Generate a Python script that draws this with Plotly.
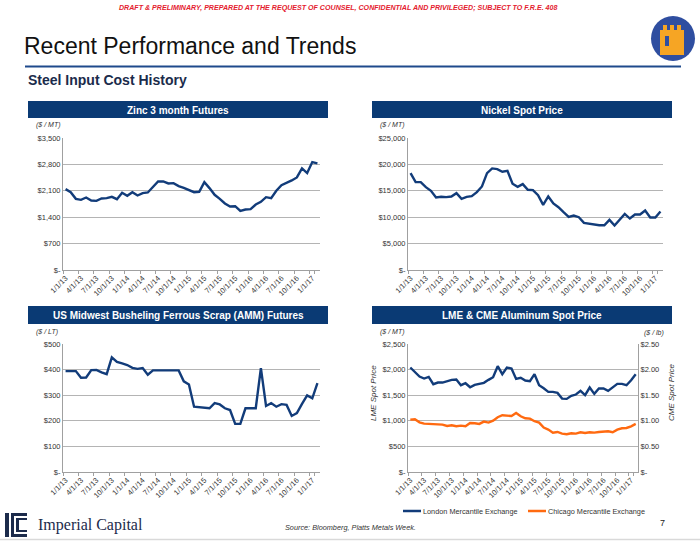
import plotly.graph_objects as go

W, H = 700, 541


def px(x):
    return x / W


def py(y):
    return 1 - y / H


# ---------------- data ----------------
months = [
    "1/1/13", "2/1/13", "3/1/13", "4/1/13", "5/1/13", "6/1/13", "7/1/13", "8/1/13", "9/1/13", "10/1/13", "11/1/13", "12/1/13",
    "1/1/14", "2/1/14", "3/1/14", "4/1/14", "5/1/14", "6/1/14", "7/1/14", "8/1/14", "9/1/14", "10/1/14", "11/1/14", "12/1/14",
    "1/1/15", "2/1/15", "3/1/15", "4/1/15", "5/1/15", "6/1/15", "7/1/15", "8/1/15", "9/1/15", "10/1/15", "11/1/15", "12/1/15",
    "1/1/16", "2/1/16", "3/1/16", "4/1/16", "5/1/16", "6/1/16", "7/1/16", "8/1/16", "9/1/16", "10/1/16", "11/1/16", "12/1/16",
    "1/1/17", "2/1/17",
]
tick_months = [
    "1/1/13", "4/1/13", "7/1/13", "10/1/13", "1/1/14", "4/1/14", "7/1/14", "10/1/14",
    "1/1/15", "4/1/15", "7/1/15", "10/1/15", "1/1/16", "4/1/16", "7/1/16", "10/1/16", "1/1/17",
]

zinc = [2144, 2064, 1887, 1860, 1923, 1843, 1834, 1896, 1905, 1940,
        1878, 2047, 1967, 2064, 1976, 2038, 2056, 2206, 2348, 2348,
        2295, 2304, 2224, 2180, 2126, 2064, 2073, 2330, 2171, 1994,
        1887, 1763, 1683, 1692, 1568, 1604, 1612, 1736, 1807, 1931,
        1905, 2100, 2250, 2304, 2375, 2454, 2693, 2570, 2862, 2826]

nickel = [18354, 16646, 16646, 15696, 15000, 13734, 13861, 13797, 13924, 14557,
          13481, 13861, 13987, 14747, 15823, 18354, 19240, 19114, 18607, 18797,
          16329, 15759, 16266, 15190, 15127, 14177, 12342, 13924, 12595, 11899,
          10949, 10063, 10316, 10000, 8924, 8734, 8607, 8481, 8481, 9494,
          8418, 9494, 10633, 9747, 10506, 10506, 11266, 9937, 9937, 11076]

scrap = [394, 394, 394, 368, 369, 398, 399, 389, 382, 448,
         430, 424, 418, 407, 403, 406, 380, 397, 397, 397,
         399, 399, 397, 354, 342, 255, 253, 249, 249, 269,
         264, 249, 242, 188, 188, 249, 249, 249, 406, 258,
         269, 255, 265, 262, 219, 230, 266, 299, 288, 347]

lme = [2041, 1943, 1865, 1826, 1858, 1715, 1747, 1747, 1773, 1800,
       1806, 1695, 1734, 1656, 1702, 1728, 1741, 1800, 1852, 2067,
       1910, 2041, 2021, 1819, 1839, 1786, 1773, 1910, 1695, 1636,
       1565, 1565, 1545, 1434, 1428, 1487, 1513, 1584, 1500, 1650,
       1526, 1630, 1630, 1584, 1650, 1721, 1721, 1695, 1793, 1910]

cme = [1.023, 1.030, 0.971, 0.945, 0.939, 0.932, 0.919, 0.926, 0.900, 0.913,
       0.893, 0.906, 0.893, 0.958, 0.952, 0.939, 0.984, 0.965, 1.004, 1.069,
       1.108, 1.108, 1.095, 1.154, 1.089, 1.049, 1.043, 0.991, 0.965, 0.867,
       0.828, 0.769, 0.782, 0.750, 0.737, 0.756, 0.750, 0.776, 0.763, 0.776,
       0.769, 0.782, 0.795, 0.795, 0.776, 0.828, 0.854, 0.860, 0.893, 0.939]

zinc_ticks = [0, 700, 1400, 2100, 2800, 3500]
zinc_labels = ["$-", "$700", "$1,400", "$2,100", "$2,800", "$3,500"]
nickel_ticks = [0, 5000, 10000, 15000, 20000, 25000]
nickel_labels = ["$-", "$5,000", "$10,000", "$15,000", "$20,000", "$25,000"]
scrap_ticks = [0, 100, 200, 300, 400, 500]
scrap_labels = ["$-", "$100", "$200", "$300", "$400", "$500"]
lme_ticks = [0, 500, 1000, 1500, 2000, 2500]
lme_labels = ["$-", "$500", "$1,000", "$1,500", "$2,000", "$2,500"]
cme_ticks = [0, 0.5, 1.0, 1.5, 2.0, 2.5]
cme_labels = ["$-", "$0.50", "$1.00", "$1.50", "$2.00", "$2.50"]

panel_titles = ["Zinc 3 month Futures", "Nickel Spot Price",
                "US Midwest Busheling Ferrous Scrap (AMM) Futures", "LME & CME Aluminum Spot Price"]
legend_names = ["London Mercantile Exchange", "Chicago Mercantile Exchange"]

# ---------------- style ----------------
NAVY = "#123c7a"
ORANGE = "#ff6a10"
BAR = "#0a3a74"
GRID = "#b4b4b4"
AXIS = "#a0a0a0"
TXT = "#333333"
FONT = "Liberation Sans, Arial, sans-serif"
LW = 2.4

fig = go.Figure()
fig.add_trace(go.Scatter(x=months, y=zinc, mode="lines", line=dict(color=NAVY, width=LW),
                         xaxis="x", yaxis="y", showlegend=False, name="Zinc"))
fig.add_trace(go.Scatter(x=months, y=nickel, mode="lines", line=dict(color=NAVY, width=LW),
                         xaxis="x2", yaxis="y2", showlegend=False, name="Nickel"))
fig.add_trace(go.Scatter(x=months, y=scrap, mode="lines", line=dict(color=NAVY, width=LW),
                         xaxis="x3", yaxis="y3", showlegend=False, name="Scrap"))
fig.add_trace(go.Scatter(x=months, y=lme, mode="lines", line=dict(color=NAVY, width=LW),
                         xaxis="x4", yaxis="y4", showlegend=False, name=legend_names[0]))
fig.add_trace(go.Scatter(x=months, y=cme, mode="lines", line=dict(color=ORANGE, width=LW),
                         xaxis="x4", yaxis="y5", showlegend=False, name=legend_names[1]))


def xax(domain, anchor):
    return dict(domain=domain, anchor=anchor, type="category", range=[-0.5, len(months) - 0.5],
                tickmode="array", tickvals=tick_months, ticktext=tick_months, tickangle=-45,
                tickfont=dict(size=7.5, color=TXT, family=FONT), showgrid=False,
                showline=True, linecolor=AXIS, linewidth=1, ticks="outside", ticklen=3,
                tickcolor=AXIS, tickson="boundaries", zeroline=False, automargin=False)


def yax(domain, anchor, rng, tv, tt, side="left", overlaying=None):
    d = dict(domain=domain, anchor=anchor, range=rng, tickmode="array", tickvals=tv, ticktext=tt,
             tickfont=dict(size=7.5, color=TXT, family=FONT), showgrid=True, gridcolor=GRID,
             gridwidth=1.3, showline=True, linecolor=AXIS, linewidth=1, zeroline=False,
             ticks="", side=side, automargin=False)
    if overlaying:
        d["overlaying"] = overlaying
        d["showgrid"] = False
    return d


top_dom = [py(270), py(138)]
bot_dom = [py(472), py(344)]

fig.update_layout(
    width=W, height=H, margin=dict(l=0, r=0, t=0, b=0, pad=0, autoexpand=False),
    paper_bgcolor="white", plot_bgcolor="white",
    font=dict(family=FONT, color=TXT),
    showlegend=False,
    xaxis=xax([px(63), px(320)], "y"),
    yaxis=yax(top_dom, "x", [0, 3500], zinc_ticks, zinc_labels),
    xaxis2=xax([px(408), px(663)], "y2"),
    yaxis2=yax(top_dom, "x2", [0, 25000], nickel_ticks, nickel_labels),
    xaxis3=xax([px(63), px(320)], "y3"),
    yaxis3=yax(bot_dom, "x3", [0, 500], scrap_ticks, scrap_labels),
    xaxis4=xax([px(408), px(638)], "y4"),
    yaxis4=yax(bot_dom, "x4", [0, 2500], lme_ticks, lme_labels),
    yaxis5=yax(bot_dom, "x4", [0, 2.5], cme_ticks, cme_labels, side="right", overlaying="y4"),
)

shapes = []
annotations = []


def rect(x0, y0, x1, y1, color):
    shapes.append(dict(type="rect", xref="paper", yref="paper", x0=px(x0), x1=px(x1),
                       y0=py(y1), y1=py(y0), fillcolor=color, line=dict(width=0), layer="above"))


def text(x, y, s, size, color=TXT, xanchor="left", yanchor="middle", bold=False, italic=False,
         family=FONT, angle=0):
    if bold:
        s = "<b>" + s + "</b>"
    if italic:
        s = "<i>" + s + "</i>"
    annotations.append(dict(x=px(x), y=py(y), xref="paper", yref="paper", text=s, showarrow=False,
                            xanchor=xanchor, yanchor=yanchor, textangle=angle, borderpad=0,
                            font=dict(size=size, color=color, family=family)))


# header
text(338, 8, "DRAFT & PRELIMINARY, PREPARED AT THE REQUEST OF COUNSEL, CONFIDENTIAL AND PRIVILEGED; SUBJECT TO F.R.E. 408",
     7.1, color="#e4202e", xanchor="center", bold=True, italic=True)
text(23, 46, "Recent Performance and Trends", 23, color="#111111")
shapes.append(dict(type="line", xref="paper", yref="paper", x0=px(25), x1=px(681), y0=py(66.5), y1=py(66.5),
                   line=dict(color="#1f4a8c", width=2)))
text(27, 80, "Steel Input Cost History", 14, color="#1b2b4b", bold=True)

# castle logo
shapes.append(dict(type="circle", xref="paper", yref="paper", x0=px(651), x1=px(695), y0=py(61), y1=py(16),
                   fillcolor="#2f4ea0", line=dict(width=0)))
castle = [(660, 55), (660, 30), (663, 30), (663, 25), (667, 25), (667, 30), (670, 30), (670, 25),
          (674, 25), (674, 30), (677, 30), (677, 25), (681, 25), (681, 30), (684, 30), (684, 55)]
path = "M " + " L ".join(f"{px(a):.5f},{py(b):.5f}" for a, b in castle) + " Z"
shapes.append(dict(type="path", xref="paper", yref="paper", path=path, fillcolor="#f6a524", line=dict(width=0)))
shapes.append(dict(type="rect", xref="paper", yref="paper", x0=px(665), x1=px(669), y0=py(46), y1=py(36),
                   fillcolor="#2f4ea0", line=dict(width=0)))

# panel header bars
bars = [(28, 101, 328, 118), (372, 101, 672, 118), (28, 306, 328, 324), (372, 306, 672, 324)]
for (x0, y0, x1, y1), t in zip(bars, panel_titles):
    rect(x0, y0, x1, y1, BAR)
    text((x0 + x1) / 2, (y0 + y1) / 2 + 0.5, t, 10, color="white", xanchor="center", bold=True)

# units
text(35, 124.5, "($ / MT)", 7, italic=True)
text(379, 124.5, "($ / MT)", 7, italic=True)
text(35, 331.5, "($ / LT)", 7, italic=True)
text(379, 331.5, "($ / MT)", 7, italic=True)
text(665, 333, "($ / lb)", 7, italic=True, xanchor="right")
text(373, 393, "LME Spot Price", 8, italic=True, xanchor="center", angle=-90)
text(671, 393, "CME Spot Price", 8, italic=True, xanchor="center", angle=-90)

# legend
shapes.append(dict(type="line", xref="paper", yref="paper", x0=px(403), x1=px(421), y0=py(511), y1=py(511),
                   line=dict(color=NAVY, width=2.5)))
text(422, 511, legend_names[0], 7.3)
shapes.append(dict(type="line", xref="paper", yref="paper", x0=px(528), x1=px(546), y0=py(511), y1=py(511),
                   line=dict(color=ORANGE, width=2.5)))
text(547, 511, legend_names[1], 7.3)

# footer
text(284, 527, "Source: Bloomberg, Platts Metals Week.", 7.3, italic=True)
text(662, 523, "7", 9, color="#222222", xanchor="center")
text(37, 525, "Imperial Capital", 16, color="#1c2b4b", family="Liberation Serif, DejaVu Serif, serif")
ICON = "#1c2b4b"
rect(5, 513, 9, 537, ICON)
rect(11, 513, 14, 537, ICON)
rect(11, 513, 27, 516, ICON)
rect(11, 534, 27, 537, ICON)
rect(16, 518, 19, 532, ICON)
rect(16, 518, 27, 520, ICON)
rect(16, 530, 27, 532, ICON)
shapes.append(dict(type="line", xref="paper", yref="paper", x0=0, x1=1, y0=py(539.5), y1=py(539.5),
                   line=dict(color="#d9d9d9", width=1.5)))

fig.update_layout(shapes=shapes, annotations=annotations)
fig.write_html("out.html", config={"displayModeBar": False},
               post_script="document.body.style.margin='0';")
